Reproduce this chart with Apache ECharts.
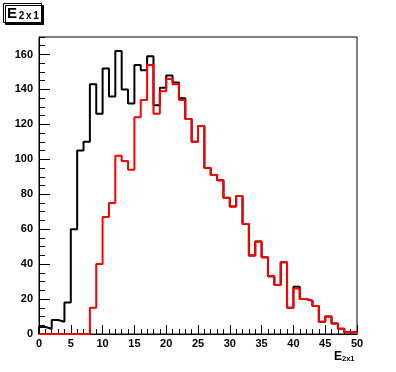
<!DOCTYPE html>
<html>
<head>
<meta charset="utf-8">
<script src="https://cdn.jsdelivr.net/npm/echarts@6/dist/echarts.min.js"></script>
<style>
html,body{margin:0;padding:0;background:#fff;}
#c{width:396px;height:372px;}
</style>
</head>
<body>
<div id="c"></div>
<script>
// bin lower edges 0..49 (width 1)
const blackCounts = [4,3,8,7,18,60,105,110,143,126,152,136,162,140,132,154,151,159,131,141,148,144,135,123,110,119,95,91,88,78,73,79,63,45,53,44,33,28,41,15,27,20,19,16,7,10,6,3,1,1];
const redCounts   = [0,0,0,0,0,0,0,0,15,40,67,75,102,99,94,124,134,154,126,139,146,143,134,123,110,119,95,91,88,78,73,79,63,45,53,44,33,28,41,15,26,20,19,16,7,10,6,3,1,1];
const xMin = 0, xMax = 50, binWidth = 1;
const yMin = 0, yMax = 170;
const titleText = 'E';
const titleSub = '2x1';

function steps(counts){
  const pts = [[xMin, 0]];
  counts.forEach((v, i) => pts.push([xMin + i * binWidth, v]));
  pts.push([xMin + counts.length * binWidth, counts[counts.length - 1]]);
  pts.push([xMin + counts.length * binWidth, 0]);
  return pts;
}

const FONT = 'Liberation Sans, Arial, Helvetica, sans-serif';
const chart = echarts.init(document.getElementById('c'), null, {renderer: 'canvas'});
chart.setOption({
  animation: false,
  backgroundColor: '#fff',
  title: [{
    text: '{e|' + titleText + '}{s|' + titleSub.split('').join('}{s|') + '}',
    left: 3, top: 3,
    padding: [3, 2, 2, 4],
    backgroundColor: '#fff',
    borderColor: '#000', borderWidth: 1,
    shadowColor: '#000', shadowBlur: 0, shadowOffsetX: 2, shadowOffsetY: 2,
    textStyle: {
      fontFamily: FONT, fontWeight: 'bold', color: '#000',
      rich: {
        e: {fontFamily: FONT, fontWeight: 'bold', fontSize: 15, lineHeight: 15, verticalAlign: 'bottom', padding: [0, 1, 0, 0], color: '#000'},
        s: {fontFamily: FONT, fontWeight: 'bold', fontSize: 10, lineHeight: 10, verticalAlign: 'bottom', padding: [0, 0.8, 0, 0.8], color: '#000'}
      }
    }
  }, {
    text: '{e|' + titleText + '}{s|' + titleSub + '}',
    left: 334, top: 351, padding: 0,
    textStyle: {
      fontFamily: FONT, fontWeight: 'bold', color: '#000',
      rich: {
        e: {fontFamily: FONT, fontWeight: 'bold', fontSize: 12, lineHeight: 12, verticalAlign: 'top', color: '#000'},
        s: {fontFamily: FONT, fontWeight: 'bold', fontSize: 7.5, lineHeight: 5, verticalAlign: 'bottom', color: '#000'}
      }
    }
  }],
  grid: {left: 39, right: 39, top: 37, bottom: 38, show: true, borderColor: '#000', borderWidth: 1, backgroundColor: 'transparent'},
  xAxis: {
    type: 'value', min: xMin, max: xMax, interval: 5,
    axisLine: {show: true, lineStyle: {color: '#000', width: 1}},
    axisTick: {show: true, inside: true, length: 9, lineStyle: {color: '#000', width: 1}},
    minorTick: {show: true, splitNumber: 5, length: 5, lineStyle: {color: '#000', width: 1}},
    splitLine: {show: false},
    axisLabel: {margin: 4, color: '#000', fontFamily: FONT, fontWeight: 'bold', fontSize: 11}
  },
  yAxis: [{
    type: 'value', min: yMin, max: yMax, interval: 20, position: 'left',
    axisLine: {show: true, lineStyle: {color: '#000', width: 1}},
    axisTick: {show: true, inside: true, length: 11, lineStyle: {color: '#000', width: 1}},
    splitLine: {show: false},
    axisLabel: {margin: 6, showMaxLabel: false, color: '#000', fontFamily: FONT, fontWeight: 'bold', fontSize: 11}
  }, {
    type: 'value', min: yMin, max: yMax, interval: 5, position: 'left', offset: 0,
    axisLine: {show: false},
    axisTick: {show: true, inside: true, length: 6, lineStyle: {color: '#000', width: 1}},
    splitLine: {show: false},
    axisLabel: {show: false}
  }],
  series: [{
    type: 'line', step: 'end', yAxisIndex: 0, symbol: 'none',
    data: steps(blackCounts),
    lineStyle: {color: '#000', width: 2},
    itemStyle: {color: '#000'}
  }, {
    type: 'line', step: 'end', yAxisIndex: 0, symbol: 'none',
    data: steps(redCounts),
    lineStyle: {color: '#ff0000', width: 2},
    itemStyle: {color: '#ff0000'}
  }]
});
</script>
</body>
</html>
